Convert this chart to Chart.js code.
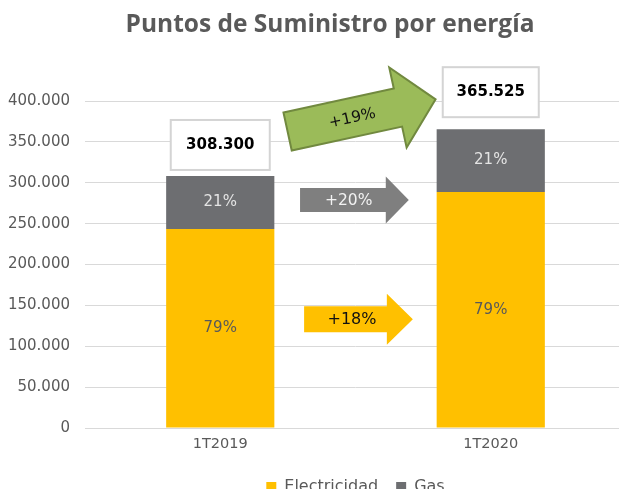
<!DOCTYPE html>
<html>
<head>
<meta charset="utf-8">
<script src="https://cdn.jsdelivr.net/npm/chart.js@4.4.1/dist/chart.umd.min.js"></script>
<style>
    html, body { margin: 0; padding: 0; background: #fff; overflow: hidden; }
    #wrap { width: 628px; height: 505px; }
</style>
</head>
<body>
<div id="wrap"><canvas id="myChart" width="628" height="505"></canvas></div>
<script>
var title = 'Puntos de Suministro por energía';
var categories = ['1T2019', '1T2020'];
var electricidad = [243557, 288765];
var gas = [64743, 76760];
var totales = [308300, 365525];
var pctElectricidad = ['79%', '79%'];
var pctGas = ['21%', '21%'];
var yTicks = [0, 50000, 100000, 150000, 200000, 250000, 300000, 350000, 400000];
var crecTotal = '+19%';
var crecGas = '+20%';
var crecElec = '+18%';

var grey = '#595959';

function fmt(v) {
    return v.toString().replace(/\B(?=(\d{3})+(?!\d))/g, '.');
}

function drawArrow(ctx, x0, y0, x1, y1, body, head, headLen, fill, stroke) {
    var ang = Math.atan2(y1 - y0, x1 - x0);
    var len = Math.hypot(x1 - x0, y1 - y0);
    ctx.save();
    ctx.translate(x0, y0);
    ctx.rotate(ang);
    ctx.beginPath();
    ctx.moveTo(0, -body);
    ctx.lineTo(len - headLen, -body);
    ctx.lineTo(len - headLen, -head);
    ctx.lineTo(len, 0);
    ctx.lineTo(len - headLen, head);
    ctx.lineTo(len - headLen, body);
    ctx.lineTo(0, body);
    ctx.closePath();
    ctx.fillStyle = fill;
    ctx.fill();
    if (stroke) {
        ctx.strokeStyle = stroke;
        ctx.lineWidth = 2;
        ctx.stroke();
    }
    ctx.restore();
}

function arrowText(ctx, text, x0, y0, x1, y1, headLen, font, color) {
    var ang = Math.atan2(y1 - y0, x1 - x0);
    var len = Math.hypot(x1 - x0, y1 - y0);
    ctx.save();
    ctx.translate(x0, y0);
    ctx.rotate(ang);
    ctx.font = font;
    ctx.fillStyle = color;
    ctx.textAlign = 'center';
    ctx.textBaseline = 'middle';
    ctx.fillText(text, (len - headLen / 2) / 2, 1);
    ctx.restore();
}

var extras = {
    id: 'extras',
    afterDatasetsDraw: function (chart) {
        var ctx = chart.ctx;
        var xs = chart.scales.x, ys = chart.scales.y;
        var metaE = chart.getDatasetMeta(0), metaG = chart.getDatasetMeta(1);

        // title
        ctx.save();
        ctx.font = 'bold 24.5px "Open Sans"';
        ctx.fillStyle = grey;
        ctx.textAlign = 'center';
        ctx.textBaseline = 'middle';
        ctx.fillText(title, 330, 25);
        ctx.restore();

        // percent labels inside the bars
        ctx.save();
        ctx.font = '15px "DejaVu Sans"';
        ctx.textAlign = 'center';
        ctx.textBaseline = 'middle';
        for (var i = 0; i < categories.length; i++) {
            var e = metaE.data[i], g = metaG.data[i];
            ctx.fillStyle = grey;
            ctx.fillText(pctElectricidad[i], e.x, (e.y + e.base) / 2);
            ctx.fillStyle = '#e4e4e4';
            ctx.fillText(pctGas[i], g.x, (g.y + g.base) / 2);
        }
        ctx.restore();

        // total boxes above the bars
        var boxW = [99, 96], gap = [6, 12];
        ctx.save();
        for (var j = 0; j < categories.length; j++) {
            var top = metaG.data[j].y;
            var cx = metaG.data[j].x;
            var bx = cx - boxW[j] / 2, by = top - gap[j] - 50;
            ctx.fillStyle = '#fff';
            ctx.fillRect(bx, by, boxW[j], 50);
            ctx.strokeStyle = '#d4d4d4';
            ctx.lineWidth = 2;
            ctx.strokeRect(bx, by, boxW[j], 50);
            ctx.font = 'bold 15px "DejaVu Sans"';
            ctx.fillStyle = '#000';
            ctx.textAlign = 'center';
            ctx.textBaseline = 'middle';
            ctx.fillText(fmt(totales[j]), cx, by + 25);
        }
        ctx.restore();

        // growth arrows between the bars
        var c0 = xs.getPixelForValue(0), c1 = xs.getPixelForValue(1);
        var at = function (t) { return c0 + (c1 - c0) * t; };

        var gy = ys.getPixelForValue(279000);
        drawArrow(ctx, at(0.295), gy, at(0.697), gy, 12, 23.5, 23, '#7f7f7f');
        arrowText(ctx, crecGas, at(0.295), gy, at(0.697), gy, 23, '15.5px "DejaVu Sans"', '#f2f2f2');

        var ey = ys.getPixelForValue(133000);
        drawArrow(ctx, at(0.31), ey, at(0.712), ey, 13, 25.5, 26, '#ffc000');
        arrowText(ctx, crecElec, at(0.31), ey, at(0.712), ey, 26, '16px "DejaVu Sans"', '#111');

        var tx0 = at(0.249), ty0 = ys.getPixelForValue(362700);
        var tx1 = at(0.796), ty1 = ys.getPixelForValue(402000);
        drawArrow(ctx, tx0, ty0, tx1, ty1, 19.5, 41, 38.5, '#9bbb59', '#71893f');
        arrowText(ctx, crecTotal, tx0, ty0, tx1, ty1, 38.5, '15.5px "DejaVu Sans"', '#111');
    }
};

var ctx = document.getElementById('myChart').getContext('2d');
var myChart = new Chart(ctx, {
    type: 'bar',
    data: {
        labels: categories,
        datasets: [{
            label: 'Electricidad',
            data: electricidad,
            backgroundColor: '#ffc000',
            barPercentage: 0.4,
            categoryPercentage: 1
        }, {
            label: 'Gas',
            data: gas,
            backgroundColor: '#6d6e71',
            barPercentage: 0.4,
            categoryPercentage: 1
        }]
    },
    options: {
        responsive: false,
        animation: false,
        layout: { padding: { top: 101, left: 0, right: 2, bottom: 0 } },
        scales: {
            x: {
                stacked: true,
                grid: { display: false, drawTicks: false },
                border: { color: '#d9d9d9', width: 1 },
                ticks: {
                    color: grey,
                    padding: 8,
                    font: { family: 'DejaVu Sans', size: 14.5 }
                },
                afterFit: function (scale) { scale.height = 33; }
            },
            y: {
                stacked: true,
                min: 0,
                max: 400000,
                afterBuildTicks: function (scale) {
                    scale.ticks = yTicks.map(function (v) { return { value: v }; });
                },
                grid: { color: '#d9d9d9', lineWidth: 1, drawTicks: false },
                border: { display: false },
                ticks: {
                    color: grey,
                    padding: 15,
                    font: { family: 'DejaVu Sans', size: 15 },
                    callback: function (v) { return fmt(v); }
                },
                afterFit: function (scale) { scale.width = 85; }
            }
        },
        plugins: {
            legend: {
                position: 'bottom',
                fullSize: false,
                labels: {
                    color: grey,
                    boxWidth: 10,
                    boxHeight: 10,
                    padding: 18,
                    font: { family: 'DejaVu Sans', size: 16 }
                }
            },
            tooltip: { enabled: false }
        }
    },
    plugins: [extras]
});
</script>
</body>
</html>
